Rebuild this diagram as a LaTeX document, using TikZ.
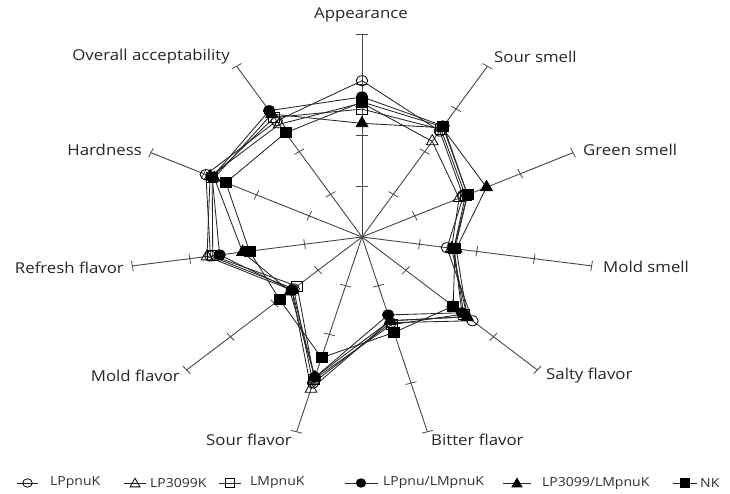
\documentclass[tikz,border=0pt]{standalone}
\usepackage{fontspec}
\setmainfont{Open Sans}[FakeStretch=1.12]
\usetikzlibrary{shapes.geometric}
\newcommand\mkcoords[2]{%
  \foreach \v [count=\i from 0] in {#2} {%
    \pgfmathsetmacro\ang{90-\i*360/11}%
    \coordinate (#1-\i) at ({362+232*\v*cos(\ang)},{237-203*\v*sin(\ang)});%
  }%
}
\newcommand\mkseries[3]{%
  \mkcoords{#1}{#3}%
  \draw[dataline] (#1-0) \foreach \i in {1,...,10}{ -- (#1-\i)} -- cycle;
  \foreach \i in {0,...,10}{\node[#2] (#1m\i) at (#1-\i) {};}
}
\begin{document}
\begin{tikzpicture}[x=1pt,y=-1pt,
  axisline/.style={draw=black!72, line width=0.9pt},
  tickline/.style={draw=black!72, line width=0.8pt},
  dataline/.style={draw=black!85, line width=0.85pt},
  mk/.style={draw=black, line width=0.8pt, inner sep=0pt},
  mkOC/.style={mk, ellipse, minimum width=11.5pt, minimum height=10pt},
  mkFC/.style={mkOC, fill=black},
  mkOS/.style={mk, rectangle, minimum width=11pt, minimum height=10pt},
  mkFS/.style={mkOS, fill=black},
  mkOT/.style={mk, regular polygon, regular polygon sides=3, minimum size=13.5pt},
  mkFT/.style={mkOT, fill=black},
  small/.style={minimum width=9.5pt, minimum height=8.5pt},
  smalltri/.style={minimum size=11.5pt},
  lab/.style={font=\fontsize{15}{18}\selectfont, text=black!85, inner sep=0pt},
  leg/.style={font=\fontsize{12.5}{14}\selectfont, text=black!82, inner sep=0pt, anchor=west}
]
\useasboundingbox (0,0) rectangle (730,494);
\coordinate (O) at (362,237);
% axes and ticks
\foreach \k in {0,...,10}{
  \pgfmathsetmacro\a{90-\k*360/11}
  \coordinate (ax\k) at ({362+232*cos(\a)},{237-203*sin(\a)});
  \draw[axisline] (O) -- (ax\k);
  \foreach \f in {0.25,0.5,0.75,1}{
    \pgfmathsetmacro\px{362+232*\f*cos(\a)}
    \pgfmathsetmacro\py{237-203*\f*sin(\a)}
    \pgfmathsetmacro\dx{5*1.14*sin(\a)}
    \pgfmathsetmacro\dy{5*cos(\a)}
    \coordinate (t\k a) at (\px-\dx,\py-\dy);
    \coordinate (t\k b) at (\px+\dx,\py+\dy);
    \draw[tickline] (t\k a) -- (t\k b);
  }
}
% series
\mkseries{s1}{mkOC}{0.77,0.62,0.48,0.37,0.63,0.44,0.75,0.39,0.66,0.74,0.68}
\mkseries{s2}{mkOT}{0.66,0.56,0.46,0.39,0.60,0.43,0.78,0.40,0.675,0.72,0.66}
\mkseries{s3}{mkOS}{0.63,0.63,0.49,0.40,0.58,0.45,0.73,0.37,0.65,0.71,0.70}
\mkseries{s4}{mkFC}{0.69,0.65,0.50,0.40,0.57,0.40,0.72,0.40,0.62,0.71,0.74}
\mkseries{s5}{mkFT}{0.56,0.64,0.59,0.41,0.60,0.43,0.72,0.41,0.52,0.70,0.72}
\mkseries{s6}{mkFS}{0.665,0.645,0.50,0.405,0.52,0.49,0.62,0.47,0.49,0.645,0.61}
% axis labels
\node[lab] (L0) at (361,15) {Appearance};
\node[lab, anchor=west] (L1) at (494,57) {Sour smell};
\node[lab, anchor=west] (L2) at (583,150) {Green smell};
\node[lab, anchor=west] (L3) at (603,267) {Mold smell};
\node[lab, anchor=west] (L4) at (546,376) {Salty flavor};
\node[lab, anchor=west] (L5) at (431,440) {Bitter flavor};
\node[lab, anchor=east] (L6) at (292,440) {Sour flavor};
\node[lab, anchor=east] (L7) at (180,376) {Mold flavor};
\node[lab, anchor=east] (L8) at (124,268) {Refresh flavor};
\node[lab, anchor=east] (L9) at (142,150) {Hardness};
\node[lab, anchor=east] (L10) at (230,57) {Overall acceptability};
% legend
\coordinate (g1a) at (17,483); \coordinate (g1b) at (38,483);
\draw[dataline] (g1a) -- (g1b); \node[mkOC, small] (g1m) at (27.5,483) {};
\node[leg] (g1t) at (50,483) {LPpnuK};
\coordinate (g2a) at (124,483); \coordinate (g2b) at (146,483);
\draw[dataline] (g2a) -- (g2b); \node[mkOT, smalltri] (g2m) at (135,484) {};
\node[leg] (g2t) at (150,483) {LP3099K};
\coordinate (g3a) at (219,483); \coordinate (g3b) at (241,483);
\draw[dataline] (g3a) -- (g3b); \node[mkOS, small] (g3m) at (230,483) {};
\node[leg] (g3t) at (250,483) {LMpnuK};
\coordinate (g4a) at (345,483); \coordinate (g4b) at (378,483);
\draw[dataline] (g4a) -- (g4b); \node[mkFC, small] (g4m) at (361,483) {};
\node[leg] (g4t) at (383,483) {LPpnu/LMpnuK};
\coordinate (g5a) at (503,483); \coordinate (g5b) at (531,483);
\draw[dataline] (g5a) -- (g5b); \node[mkFT, smalltri] (g5m) at (517,484) {};
\node[leg] (g5t) at (542,483) {LP3099/LMpnuK};
\coordinate (g6a) at (673,483); \coordinate (g6b) at (697,483);
\draw[dataline] (g6a) -- (g6b); \node[mkFS, small] (g6m) at (685,483) {};
\node[leg] (g6t) at (700,483) {NK};
\end{tikzpicture}
\end{document}
